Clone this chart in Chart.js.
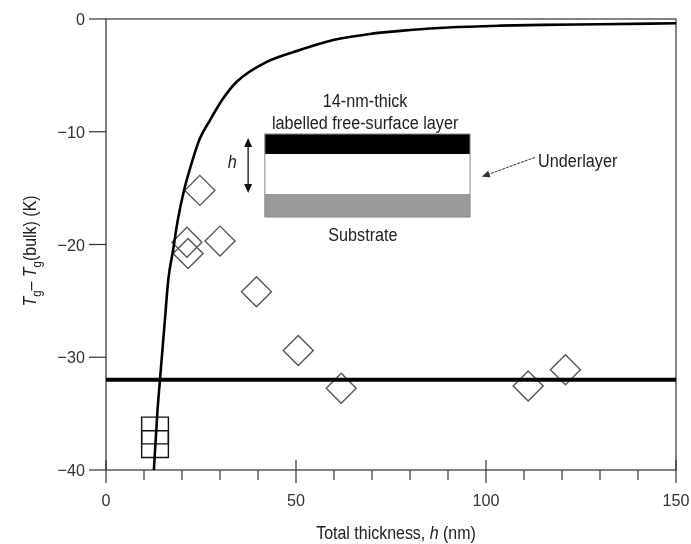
<!DOCTYPE html>
<html>
<head>
<meta charset="utf-8">
<script src="https://cdn.jsdelivr.net/npm/chart.js@4.4.1/dist/chart.umd.min.js"></script>
<style>
  body { margin: 0; background: #fff; }
  canvas { display: block; }
</style>
</head>
<body>
<canvas id="myCanvas" width="691" height="544"></canvas>
<script>
// no narrow font installed, so text is squeezed horizontally by hand
const FONT = "'Liberation Sans', Arial, sans-serif";

// model curve
const curveX = [12.6, 13.5, 14.2, 15.5, 16.4, 17.7, 18.8, 20.6, 22.7, 24.7, 27.4, 30.5, 34.4, 42.3, 51, 59.8, 70, 80, 90, 103.7, 115, 130, 150];
const curveY = [-40, -35, -32, -26.7, -23.1, -20.4, -18.0, -15.1, -12.6, -10.6, -8.96, -7.2, -5.56, -3.8, -2.75, -1.86, -1.3, -0.98, -0.75, -0.59, -0.52, -0.47, -0.38];

// open diamonds
const diamondX = [24.7, 21.3, 21.6, 30, 39.6, 50.6, 61.9, 111.1, 120.9];
const diamondY = [-15.2, -19.8, -20.8, -19.7, -24.2, -29.4, -32.75, -32.55, -31.1];

// open squares
const squareX = [12.9, 12.9];
const squareY = [-36.5, -37.7];

// horizontal reference line
const bulkX = [0, 150];
const bulkY = [-32, -32];

// ticks
const xTicks = [0, 50, 100, 150];
const xMinor = [10, 20, 30, 40, 60, 70, 80, 90, 110, 120, 130, 140];
const yTicks = [-40, -30, -20, -10, 0];

const pts = (xs, ys) => xs.map((x, i) => ({ x: x, y: ys[i] }));

function line(ctx, x1, y1, x2, y2) {
  ctx.beginPath(); ctx.moveTo(x1, y1); ctx.lineTo(x2, y2); ctx.stroke();
}

function arrowHead(ctx, x, y, dx, dy, len, half) {
  const d = Math.hypot(dx, dy), ux = dx / d, uy = dy / d;
  ctx.beginPath();
  ctx.moveTo(x, y);
  ctx.lineTo(x - ux * len - uy * half, y - uy * len + ux * half);
  ctx.lineTo(x - ux * len + uy * half, y - uy * len - ux * half);
  ctx.closePath();
  ctx.fill();
}

// condensed text
function cText(ctx, text, x, y, size, sx, align, italic) {
  ctx.save();
  ctx.font = (italic ? 'italic ' : '') + size + 'px ' + FONT;
  ctx.textAlign = align || 'left';
  ctx.textBaseline = 'alphabetic';
  ctx.translate(x, y);
  ctx.scale(sx, 1);
  ctx.fillText(text, 0, 0);
  ctx.restore();
}

// text pieces with italic / subscript parts
function partsWidth(ctx, parts, size, sx) {
  let w = 0;
  parts.forEach(p => {
    ctx.font = (p.it ? 'italic ' : '') + (p.sub ? size * 0.72 : size) + 'px ' + FONT;
    w += ctx.measureText(p.t).width * sx;
  });
  return w;
}
function drawParts(ctx, parts, x, y, size, sx) {
  parts.forEach(p => {
    const s = p.sub ? size * 0.72 : size;
    cText(ctx, p.t, x, y + (p.sub ? size * 0.28 : 0), s, sx, 'left', p.it);
    ctx.font = (p.it ? 'italic ' : '') + s + 'px ' + FONT;
    x += ctx.measureText(p.t).width * sx;
  });
}

const framePlugin = {
  id: 'frame',
  beforeDatasetsDraw(chart) {
    const { ctx, chartArea: a, scales: { x, y } } = chart;
    ctx.save();
    ctx.strokeStyle = '#333';
    ctx.lineWidth = 1.2;
    ctx.strokeRect(a.left, a.top, a.right - a.left, a.bottom - a.top);
    yTicks.forEach(v => {
      const py = y.getPixelForValue(v);
      line(ctx, a.left - 17, py, a.left, py);
    });
    xTicks.forEach(v => {
      const px = x.getPixelForValue(v);
      line(ctx, px, a.bottom - 10, px, a.bottom + 13);
    });
    xMinor.forEach(v => {
      const px = x.getPixelForValue(v);
      line(ctx, px, a.bottom, px, a.bottom + 10);
    });

    // tick labels
    ctx.fillStyle = '#333';
    xTicks.forEach(v => {
      cText(ctx, String(v), x.getPixelForValue(v), a.bottom + 36, 17, 0.95, 'center');
    });
    yTicks.forEach(v => {
      cText(ctx, String(v).replace('-', '\u2212'), a.left - 21, y.getPixelForValue(v) + 6, 17, 0.95, 'right');
    });
    ctx.restore();
  },
  afterDraw(chart) {
    const { ctx } = chart;
    ctx.save();
    ctx.fillStyle = '#222';

    // x axis title
    const xParts = [{ t: 'Total thickness, ' }, { t: 'h', it: true }, { t: ' (nm)' }];
    const xw = partsWidth(ctx, xParts, 19, 0.84);
    drawParts(ctx, xParts, 396 - xw / 2, 539, 19, 0.84);

    // y axis title
    const yParts = [{ t: 'T', it: true }, { t: 'g', sub: true }, { t: '\u2013 ' },
      { t: 'T', it: true }, { t: 'g', sub: true }, { t: '(bulk) (K)' }];
    const yw = partsWidth(ctx, yParts, 19, 0.84);
    ctx.translate(36, 251);
    ctx.rotate(-Math.PI / 2);
    drawParts(ctx, yParts, -yw / 2, 0, 19, 0.84);
    ctx.restore();
  }
};

// inset sketch of the film stack, placed in data units
const insetPlugin = {
  id: 'inset',
  afterDatasetsDraw(chart) {
    const { ctx, scales: { x, y } } = chart;
    const X = v => x.getPixelForValue(v), Y = v => y.getPixelForValue(v);
    ctx.save();
    const l = X(41.8), r = X(95.8);
    const t0 = Y(-10.2), t1 = Y(-11.97), t2 = Y(-15.52), t3 = Y(-17.56);
    ctx.fillStyle = '#000';
    ctx.fillRect(l, t0, r - l, t1 - t0);
    ctx.fillStyle = '#9a9a9a';
    ctx.fillRect(l, t2, r - l, t3 - t2);
    ctx.strokeStyle = '#888';
    ctx.lineWidth = 1;
    ctx.strokeRect(l, t0, r - l, t3 - t0);

    ctx.fillStyle = '#222';
    cText(ctx, '14-nm-thick', X(68.2), Y(-7.8), 18, 0.9, 'center');
    cText(ctx, 'labelled free-surface layer', X(68.2), Y(-9.76), 18, 0.9, 'center');
    cText(ctx, 'Substrate', X(67.6), Y(-19.7), 18, 0.9, 'center');
    cText(ctx, 'Underlayer', X(113.7), Y(-13.1), 18, 0.9, 'left');
    cText(ctx, 'h', X(33.2), Y(-13.2), 18, 0.9, 'center', true);

    // double arrow for h
    ctx.strokeStyle = '#111';
    ctx.fillStyle = '#111';
    ctx.lineWidth = 1.3;
    const hx = X(37.4), hy1 = Y(-10.55), hy2 = Y(-15.43);
    line(ctx, hx, hy1 + 4, hx, hy2 - 4);
    arrowHead(ctx, hx, hy1, 0, -1, 9, 4);
    arrowHead(ctx, hx, hy2, 0, 1, 9, 4);

    // arrow to underlayer
    ctx.lineWidth = 1;
    ctx.strokeStyle = '#333';
    ctx.fillStyle = '#333';
    const ax1 = X(112.9), ay1 = Y(-12.27), ax2 = X(98.9), ay2 = Y(-13.99);
    ctx.setLineDash([3, 1]);
    line(ctx, ax1, ay1, ax2 + 5, ay2 - 1.8);
    ctx.setLineDash([]);
    arrowHead(ctx, ax2, ay2, ax2 - ax1, ay2 - ay1, 8, 3.5);
    ctx.restore();
  }
};

const canvas = document.getElementById('myCanvas');
const chart = new Chart(canvas.getContext('2d'), {
  type: 'scatter',
  data: {
    datasets: [
      {
        label: 'curve',
        data: pts(curveX, curveY),
        showLine: true,
        borderColor: '#000',
        borderWidth: 2.6,
        pointRadius: 0,
        cubicInterpolationMode: 'monotone',
        fill: false
      },
      {
        label: 'bulk',
        data: pts(bulkX, bulkY),
        showLine: true,
        borderColor: '#000',
        borderWidth: 4,
        pointRadius: 0,
        clip: false
      },
      {
        label: 'diamonds',
        data: pts(diamondX, diamondY),
        pointStyle: 'rectRot',
        pointRadius: 15,
        borderColor: '#555',
        borderWidth: 1.4,
        backgroundColor: 'rgba(0,0,0,0)'
      },
      {
        label: 'squares',
        data: pts(squareX, squareY),
        pointStyle: 'rect',
        pointRadius: 18.9,
        borderColor: '#111',
        borderWidth: 1.4,
        backgroundColor: 'rgba(0,0,0,0)'
      }
    ]
  },
  options: {
    responsive: false,
    devicePixelRatio: 1,
    animation: false,
    layout: { autoPadding: false, padding: { top: 19, right: 15, left: 0, bottom: 0 } },
    plugins: { legend: { display: false }, tooltip: { enabled: false } },
    scales: {
      x: {
        type: 'linear', min: 0, max: 150,
        afterBuildTicks: s => { s.ticks = xTicks.map(v => ({ value: v })); },
        afterFit: s => { s.height = 74; },
        grid: { display: false, drawTicks: false },
        border: { display: false },
        ticks: { display: false }
      },
      y: {
        type: 'linear', min: -40, max: 0,
        afterBuildTicks: s => { s.ticks = yTicks.map(v => ({ value: v })); },
        afterFit: s => { s.width = 106; },
        grid: { display: false, drawTicks: false },
        border: { display: false },
        ticks: { display: false }
      }
    }
  },
  plugins: [framePlugin, insetPlugin]
});
</script>
</body>
</html>
